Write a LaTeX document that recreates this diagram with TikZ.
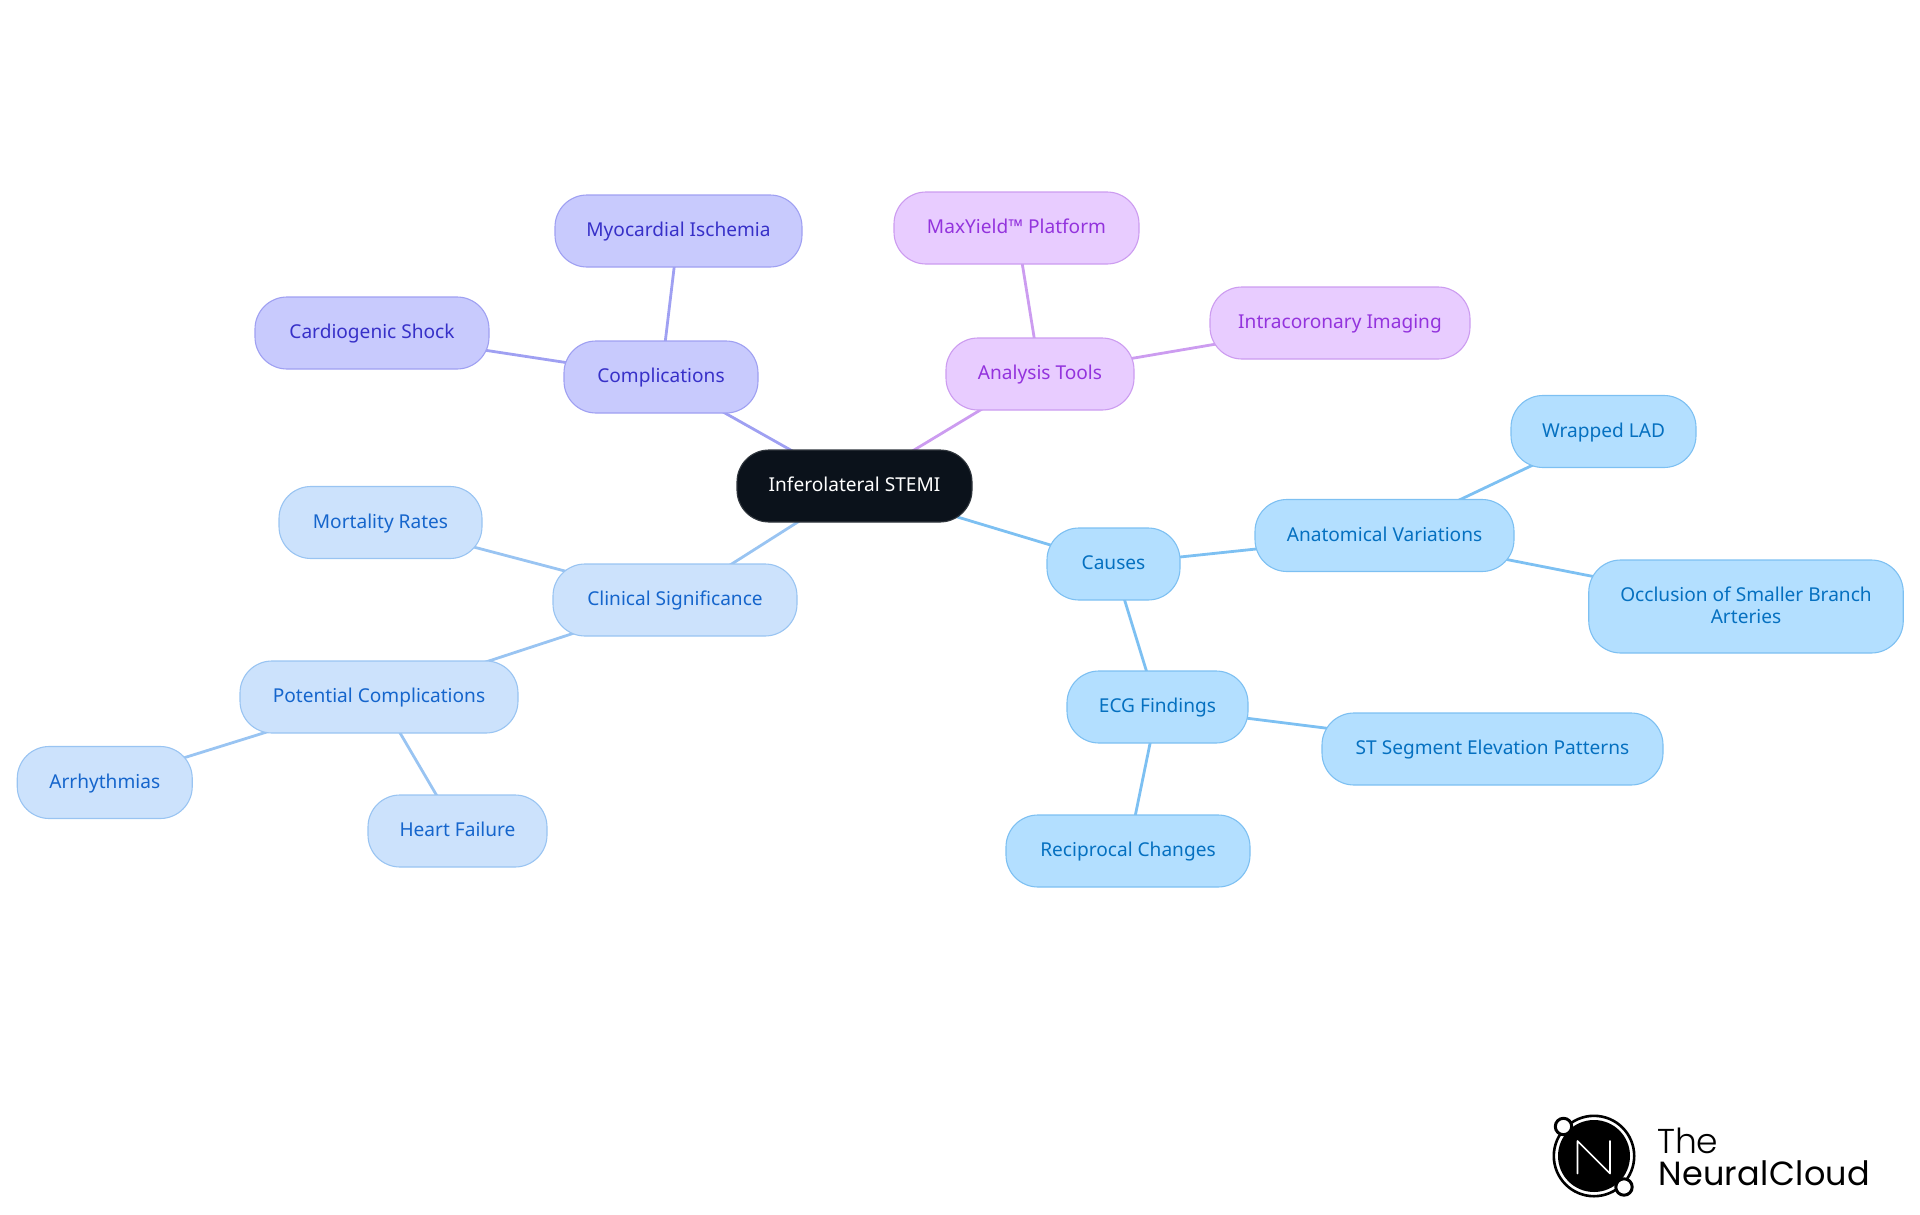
\documentclass[tikz,border=0pt]{standalone}
\usepackage{fontspec}
\setmainfont{Noto Sans}
\newfontfamily\logothin{Poppins Light}
\newfontfamily\logofont[LetterSpace=1.0]{Poppins}
\usetikzlibrary{backgrounds}

\definecolor{rootFill}{HTML}{0B121B}
\definecolor{causeFill}{HTML}{B3DFFF}
\definecolor{causeLine}{HTML}{7DC0F2}
\definecolor{causeText}{HTML}{0570C0}
\definecolor{clinicFill}{HTML}{CCE2FC}
\definecolor{clinicLine}{HTML}{99C4F2}
\definecolor{clinicText}{HTML}{1565CC}
\definecolor{complFill}{HTML}{C8CAFD}
\definecolor{complLine}{HTML}{9FA0F2}
\definecolor{complText}{HTML}{3730C8}
\definecolor{toolFill}{HTML}{E8CCFF}
\definecolor{toolLine}{HTML}{CC9CF0}
\definecolor{toolText}{HTML}{9333DD}

\tikzset{
  topic/.style={draw,rectangle,line width=1.1pt,rounded corners=32pt,inner sep=0pt,
    minimum height=72pt,align=center,text height=15.5pt,text depth=4.5pt,
    font=\fontsize{19.1}{22}\selectfont},
  rootbox/.style={topic,draw=rootFill!85!white,fill=rootFill,text=white},
  causebox/.style={topic,draw=causeLine,fill=causeFill,text=causeText},
  clinicbox/.style={topic,draw=clinicLine,fill=clinicFill,text=clinicText},
  complbox/.style={topic,draw=complLine,fill=complFill,text=complText},
  toolbox/.style={topic,draw=toolLine,fill=toolFill,text=toolText},
  link/.style={line width=2.8pt}
}

\begin{document}
\begin{tikzpicture}[x=1pt,y=-1pt]
\useasboundingbox (0,0) rectangle (1920,1215);

\node[rootbox,minimum width=235pt] (root) at (854.5,486) {Inferolateral STEMI};

\node[causebox,minimum width=133pt] (causes) at (1113.5,564) {Causes};
\node[causebox,minimum width=259pt] (anatomical) at (1384.5,535.5) {Anatomical Variations};
\node[causebox,minimum width=185pt] (wrapped) at (1603.5,431.5) {Wrapped LAD};
\node[causebox,minimum width=314.5pt,minimum height=93pt,text height=37.5pt] (occlusion) at (1746,606.5) {Occlusion of Smaller Branch\\Arteries};
\node[causebox,minimum width=181pt] (ecg) at (1157.5,707) {ECG Findings};
\node[causebox,minimum width=341pt] (stsegment) at (1492.5,749) {ST Segment Elevation Patterns};
\node[causebox,minimum width=244pt] (reciprocal) at (1128,851) {Reciprocal Changes};

\node[clinicbox,minimum width=244pt] (clinical) at (675,600) {Clinical Significance};
\node[clinicbox,minimum width=203pt] (mortality) at (380.5,522.5) {Mortality Rates};
\node[clinicbox,minimum width=278pt] (potential) at (379,697) {Potential Complications};
\node[clinicbox,minimum width=175pt] (arrhythmias) at (104.75,782.5) {Arrhythmias};
\node[clinicbox,minimum width=179pt] (heart) at (457.5,831) {Heart Failure};

\node[complbox,minimum width=194pt] (complications) at (661,377) {Complications};
\node[complbox,minimum width=247pt] (myocardial) at (678.5,231) {Myocardial Ischemia};
\node[complbox,minimum width=234pt] (cardiogenic) at (372,333) {Cardiogenic Shock};

\node[toolbox,minimum width=188pt] (analysis) at (1040,374) {Analysis Tools};
\node[toolbox,minimum width=245pt] (maxyield) at (1016.5,228) {MaxYield™ Platform};
\node[toolbox,minimum width=260pt] (intracoronary) at (1340,323) {Intracoronary Imaging};

\begin{scope}[on background layer]
\draw[link,causeLine] (root.center) -- (causes.center);
\draw[link,causeLine] (causes.center) -- (anatomical.center);
\draw[link,causeLine] (anatomical.center) -- (wrapped.center);
\draw[link,causeLine] (anatomical.center) -- (occlusion.center);
\draw[link,causeLine] (causes.center) -- (ecg.center);
\draw[link,causeLine] (ecg.center) -- (stsegment.center);
\draw[link,causeLine] (ecg.center) -- (reciprocal.center);
\draw[link,clinicLine] (root.center) -- (clinical.center);
\draw[link,clinicLine] (clinical.center) -- (mortality.center);
\draw[link,clinicLine] (clinical.center) -- (potential.center);
\draw[link,clinicLine] (potential.center) -- (arrhythmias.center);
\draw[link,clinicLine] (potential.center) -- (heart.center);
\draw[link,complLine] (root.center) -- (complications.center);
\draw[link,complLine] (complications.center) -- (myocardial.center);
\draw[link,complLine] (complications.center) -- (cardiogenic.center);
\draw[link,toolLine] (root.center) -- (analysis.center);
\draw[link,toolLine] (analysis.center) -- (maxyield.center);
\draw[link,toolLine] (analysis.center) -- (intracoronary.center);
\end{scope}

\draw[line width=2.6pt] (1594,1156) circle (40.2pt);
\fill (1594,1156) circle (36pt);
\draw[white,line width=1.7pt,line cap=round,line join=round] (1577.5,1173.5) -- (1577.5,1141) -- (1610,1173.5) -- (1610,1141);
\filldraw[fill=white,line width=3pt] (1563.5,1126.5) circle (8.2pt);
\filldraw[fill=white,line width=3pt] (1624,1187) circle (8.2pt);
\node[anchor=base west,inner sep=0pt,font=\logothin\fontsize{34.5}{36}\selectfont] (logothe) at (1657,1153) {The};
\node[anchor=base west,inner sep=0pt,font=\logofont\fontsize{33.5}{36}\selectfont] (logoname) at (1658,1185) {NeuralCloud};
\end{tikzpicture}
\end{document}
